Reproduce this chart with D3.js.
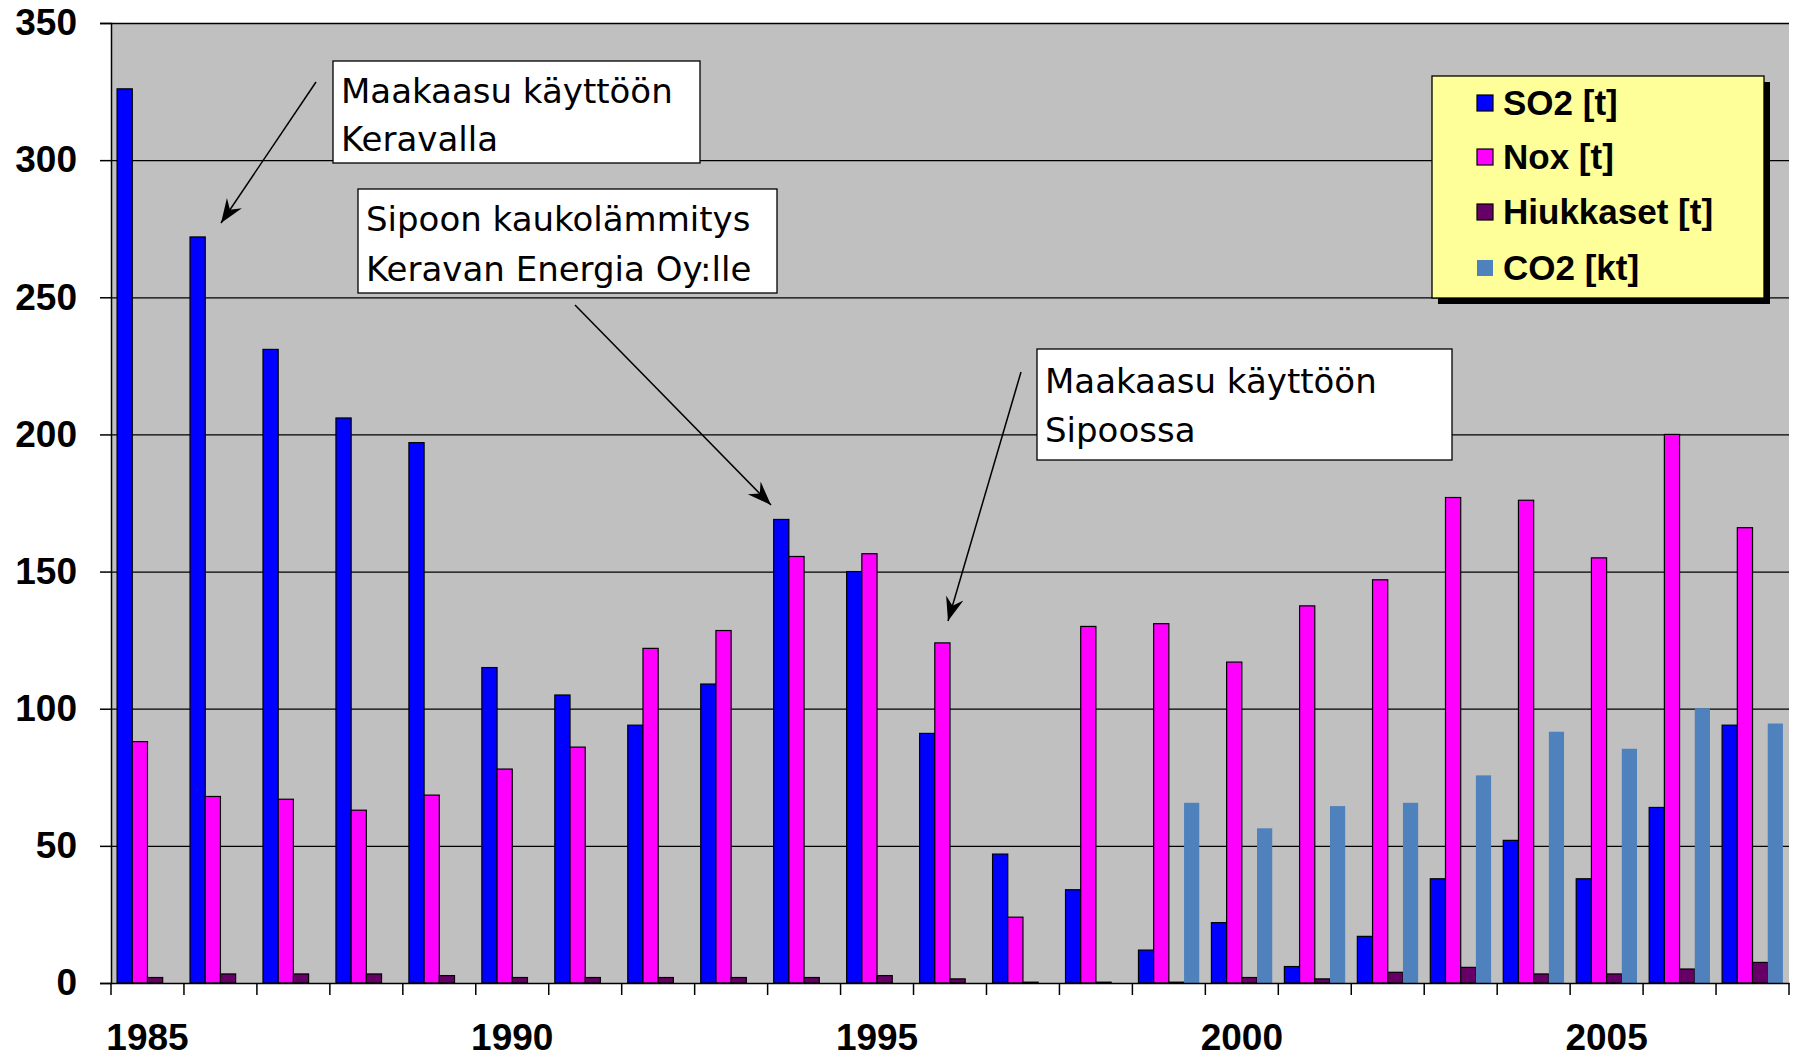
<!DOCTYPE html>
<html>
<head>
<meta charset="utf-8">
<script src="https://cdn.jsdelivr.net/npm/d3@7"></script>
<style>
  body { margin: 0; background: #fff; }
  svg { display: block; }
</style>
</head>
<body>
<div id="chart"></div>
<script>
// data
const years = ['1985','1986','1987','1988','1989','1990','1991','1992','1993','1994','1995',
  '1996','1997','1998','1999','2000','2001','2002','2003','2004','2005','2006','2007'];
const so2 = [326, 272, 231, 206, 197, 115, 105, 94, 109, 169, 150, 91, 47, 34, 12, 22, 6, 17, 38, 52, 38, 64, 94];
const nox = [88, 68, 67, 63, 68.5, 78, 86, 122, 128.5, 155.5, 156.5, 124, 24, 130, 131, 117, 137.5, 147, 177, 176, 155, 200, 166];
const hiukkaset = [2, 3.3, 3.3, 3.3, 2.7, 2, 2, 2, 2, 2, 2.7, 1.5, 0.3, 0.3, 0.3, 2, 1.5, 3.9, 5.7, 3.3, 3.3, 5.1, 7.5];
const co2 = [null, null, null, null, null, null, null, null, null, null, null, null, null, null,
  65.7, 56.4, 64.5, 65.7, 75.7, 91.6, 85.4, 100.2, 94.6];
const yTicks = [0, 50, 100, 150, 200, 250, 300, 350];
const xLabels = ['1985', '1990', '1995', '2000', '2005'];

const series = [
  { name: 'SO2 [t]', values: so2, color: '#0000ff', stroke: '#000' },
  { name: 'Nox [t]', values: nox, color: '#ff00ff', stroke: '#000' },
  { name: 'Hiukkaset [t]', values: hiukkaset, color: '#660066', stroke: '#000' },
  { name: 'CO2 [kt]', values: co2, color: '#4f81bd', stroke: 'none' }
];

const W = 1796, H = 1059;
const plot = { left: 111, right: 1789, top: 23, bottom: 983 };

const svg = d3.select('#chart').append('svg')
  .attr('width', W).attr('height', H);

// scales
const x0 = d3.scaleBand().domain(years).range([plot.left, plot.right]).padding(0);
const x1 = d3.scaleBand().domain(series.map(s => s.name))
  .range([0, x0.bandwidth()]).paddingInner(0).paddingOuter(0.4);
const y = d3.scaleLinear().domain([0, 350]).range([plot.bottom, plot.top]);

// plot area
svg.append('rect')
  .attr('x', plot.left).attr('y', plot.top)
  .attr('width', plot.right - plot.left).attr('height', plot.bottom - plot.top)
  .attr('fill', '#c0c0c0');

// gridlines
svg.append('g')
  .selectAll('line')
  .data(yTicks.filter(d => d > 0))
  .enter().append('line')
  .attr('x1', plot.left).attr('x2', plot.right)
  .attr('y1', d => y(d) + 0.5).attr('y2', d => y(d) + 0.5)
  .attr('stroke', '#000').attr('stroke-width', 1.3);

// bars
series.forEach((s) => {
  svg.append('g')
    .selectAll('rect')
    .data(s.values.map((v, i) => ({ year: years[i], v: v })).filter(d => d.v != null))
    .enter().append('rect')
    .attr('x', d => x0(d.year) + x1(s.name))
    .attr('y', d => y(d.v))
    .attr('width', x1.bandwidth())
    .attr('height', d => plot.bottom - y(d.v))
    .attr('fill', s.color)
    .attr('stroke', s.stroke)
    .attr('stroke-width', 1.2);
});

// y axis
const yAxis = d3.axisLeft(y).tickValues(yTicks).tickSize(11).tickPadding(23);
const gy = svg.append('g')
  .attr('transform', `translate(${plot.left},0)`)
  .call(yAxis);
gy.select('.domain').attr('stroke', '#000').attr('stroke-width', 1.5);
gy.selectAll('.tick line').attr('stroke', '#000').attr('stroke-width', 1.5);
gy.selectAll('text')
  .attr('font-family', 'Liberation Sans, Arial, sans-serif')
  .attr('font-weight', 'bold')
  .attr('font-size', 37)
  .attr('fill', '#000');

// x axis: labels every five years, ticks between categories
const xAxis = d3.axisBottom(x0).tickValues(xLabels).tickSize(0).tickPadding(0);
const gx = svg.append('g')
  .attr('transform', `translate(0,${plot.bottom})`)
  .call(xAxis);
gx.select('.domain').attr('stroke', '#000').attr('stroke-width', 1.5);
gx.selectAll('text')
  .attr('y', 67).attr('dy', 0)
  .attr('font-family', 'Liberation Sans, Arial, sans-serif')
  .attr('font-weight', 'bold')
  .attr('font-size', 37)
  .attr('fill', '#000');

svg.append('g')
  .selectAll('line')
  .data(years.concat(['end']))
  .enter().append('line')
  .attr('x1', d => d === 'end' ? plot.right : x0(d))
  .attr('x2', d => d === 'end' ? plot.right : x0(d))
  .attr('y1', plot.bottom).attr('y2', plot.bottom + 12)
  .attr('stroke', '#000').attr('stroke-width', 1.5);

// annotations
const notes = [
  { x: 333, y: 61, w: 367, h: 102, lines: ['Maakaasu käyttöön', 'Keravalla'], tx: 341, ty: [103, 151],
    arrow: [316, 82, 221, 223] },
  { x: 358, y: 189, w: 419, h: 104, lines: ['Sipoon kaukolämmitys', 'Keravan Energia Oy:lle'], tx: 366, ty: [231, 281],
    arrow: [575, 305, 771, 505] },
  { x: 1037, y: 349, w: 415, h: 111, lines: ['Maakaasu käyttöön', 'Sipoossa'], tx: 1045, ty: [393, 442],
    arrow: [1021, 372, 948, 621] }
];

svg.append('defs').append('marker')
  .attr('id', 'head')
  .attr('viewBox', '-24 -10 26 20')
  .attr('markerUnits', 'userSpaceOnUse')
  .attr('markerWidth', 26).attr('markerHeight', 20)
  .attr('refX', 0).attr('refY', 0)
  .attr('orient', 'auto')
  .append('path')
  .attr('d', 'M0,0 L-24,-9 L-16,0 L-24,9 Z')
  .attr('fill', '#000');

notes.forEach(n => {
  const g = svg.append('g');
  g.append('rect')
    .attr('x', n.x).attr('y', n.y).attr('width', n.w).attr('height', n.h)
    .attr('fill', '#fff').attr('stroke', '#000').attr('stroke-width', 1.3);
  n.lines.forEach((t, i) => {
    g.append('text')
      .attr('x', n.tx).attr('y', n.ty[i])
      .attr('font-family', 'DejaVu Sans, sans-serif')
      .attr('font-size', 34)
      .attr('fill', '#000')
      .text(t);
  });
  svg.append('line')
    .attr('x1', n.arrow[0]).attr('y1', n.arrow[1])
    .attr('x2', n.arrow[2]).attr('y2', n.arrow[3])
    .attr('stroke', '#000').attr('stroke-width', 1.5)
    .attr('marker-end', 'url(#head)');
});

// legend
const lg = svg.append('g').attr('transform', 'translate(1432,76)');
lg.append('rect')
  .attr('x', 6).attr('y', 6).attr('width', 332).attr('height', 222)
  .attr('fill', '#000');
lg.append('rect')
  .attr('x', 0).attr('y', 0).attr('width', 332).attr('height', 222)
  .attr('fill', '#ffff99').attr('stroke', '#000').attr('stroke-width', 1.3);
const rowY = [27, 81, 136, 192];
series.forEach((s, i) => {
  lg.append('rect')
    .attr('x', 45).attr('y', rowY[i] - 8).attr('width', 16).attr('height', 16)
    .attr('fill', s.color).attr('stroke', s.stroke).attr('stroke-width', 1.2);
  lg.append('text')
    .attr('x', 71).attr('y', rowY[i] + 12)
    .attr('font-family', 'Liberation Sans, Arial, sans-serif')
    .attr('font-weight', 'bold')
    .attr('font-size', 35)
    .attr('fill', '#000')
    .text(s.name);
});
</script>
</body>
</html>
